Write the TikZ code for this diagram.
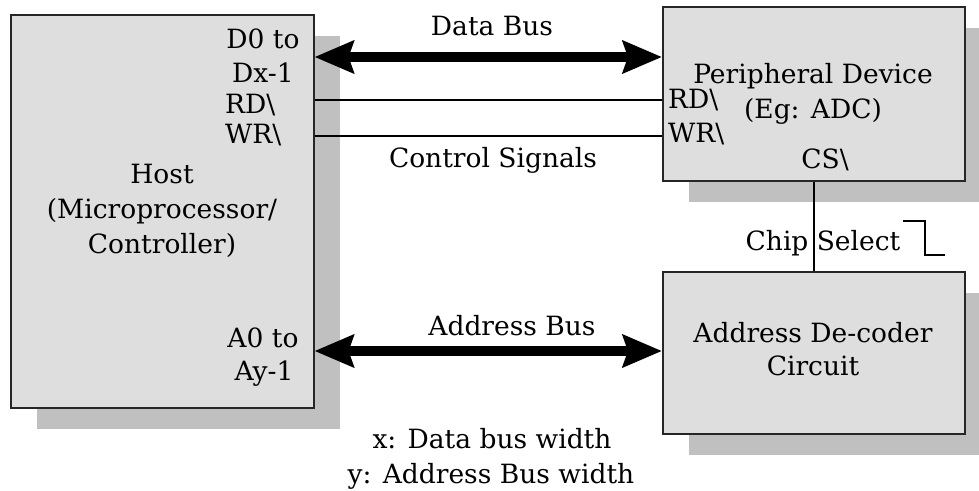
\documentclass[tikz,border=0pt]{standalone}
\usepackage{fontspec}
\setmainfont{DejaVu Serif}
\usetikzlibrary{arrows.meta,shadows}
\definecolor{boxfill}{RGB}{222,222,222}
\definecolor{shadowc}{RGB}{192,192,192}
\begin{document}
\begin{tikzpicture}[x=1pt,y=-1pt,
  every node/.style={font=\fontsize{26.5}{35}\selectfont, inner sep=0pt},
  blockbox/.style={draw=black!85, line width=1.5pt, fill=boxfill, anchor=north west,
    drop shadow={shadow xshift=26pt, shadow yshift=-21pt, fill=shadowc, opacity=1}},
  txt/.style={anchor=base},
  bus/.style={line width=10pt, {Stealth[length=39pt,width=32pt,inset=5pt]}-{Stealth[length=39pt,width=32pt,inset=5pt]}},
  sig/.style={line width=2pt}
]
\useasboundingbox (0,0) rectangle (979,490);
\begin{scope}
\clip (0,0) rectangle (979,490);
\node[blockbox, minimum width=303pt, minimum height=393pt] (host) at (10,14) {};
\node[blockbox, minimum width=302pt, minimum height=174pt] (per) at (662,6) {};
\node[blockbox, minimum width=302pt, minimum height=162pt] (dec) at (662,271) {};
\end{scope}

% host texts
\node[txt] (d0) at (263,48) {D0 to};
\node[txt] (dx) at (263,82) {Dx-1};
\node[txt, anchor=base west] (hrd) at (225,113) {RD\textbackslash};
\node[txt, anchor=base west] (hwr) at (225,143) {WR\textbackslash};
\node[txt] (h1) at (162,183) {Host};
\node[txt] (h2) at (162,218) {(Microprocessor/};
\node[txt] (h3) at (162,253) {Controller)};
\node[txt] (a0) at (263,347) {A0 to};
\node[txt] (ay) at (264,380) {Ay-1};

% peripheral texts
\node[txt] (p1) at (813,83) {Peripheral Device};
\node[txt] (p2) at (813,118) {(Eg: ADC)};
\node[txt, anchor=base west] (prd) at (668,108) {RD\textbackslash};
\node[txt, anchor=base west] (pwr) at (668,142) {WR\textbackslash};
\node[txt] (pcs) at (825,168) {CS\textbackslash};

% decoder texts
\node[txt] (d1) at (813,342) {Address De-coder};
\node[txt] (d2) at (813,375) {Circuit};

% connectors
\draw[bus] (host.east |- 0,57) -- (per.west |- 0,57);
\draw[sig] (host.east |- 0,100) -- (per.west |- 0,100);
\draw[sig] (host.east |- 0,136) -- (per.west |- 0,136);
\draw[bus] (host.east |- 0,351) -- (dec.west |- 0,351);

% labels
\node[txt] (ldb) at (492,35) {Data Bus};
\node[txt] (lcs) at (493,167) {Control Signals};
\node[txt] (lab) at (512,335) {Address Bus};
\node[txt] (chip) at (823,250) {Chip Select};
\draw[sig] (per.south) -- (dec.north);
\draw[line width=1.5pt] (903,221) -- (925,221) -- (925,255) -- (945,255);

\node[txt] (nx) at (492,448) {x: Data bus width};
\node[txt] (ny) at (491,483) {y: Address Bus width};
\end{tikzpicture}
\end{document}
